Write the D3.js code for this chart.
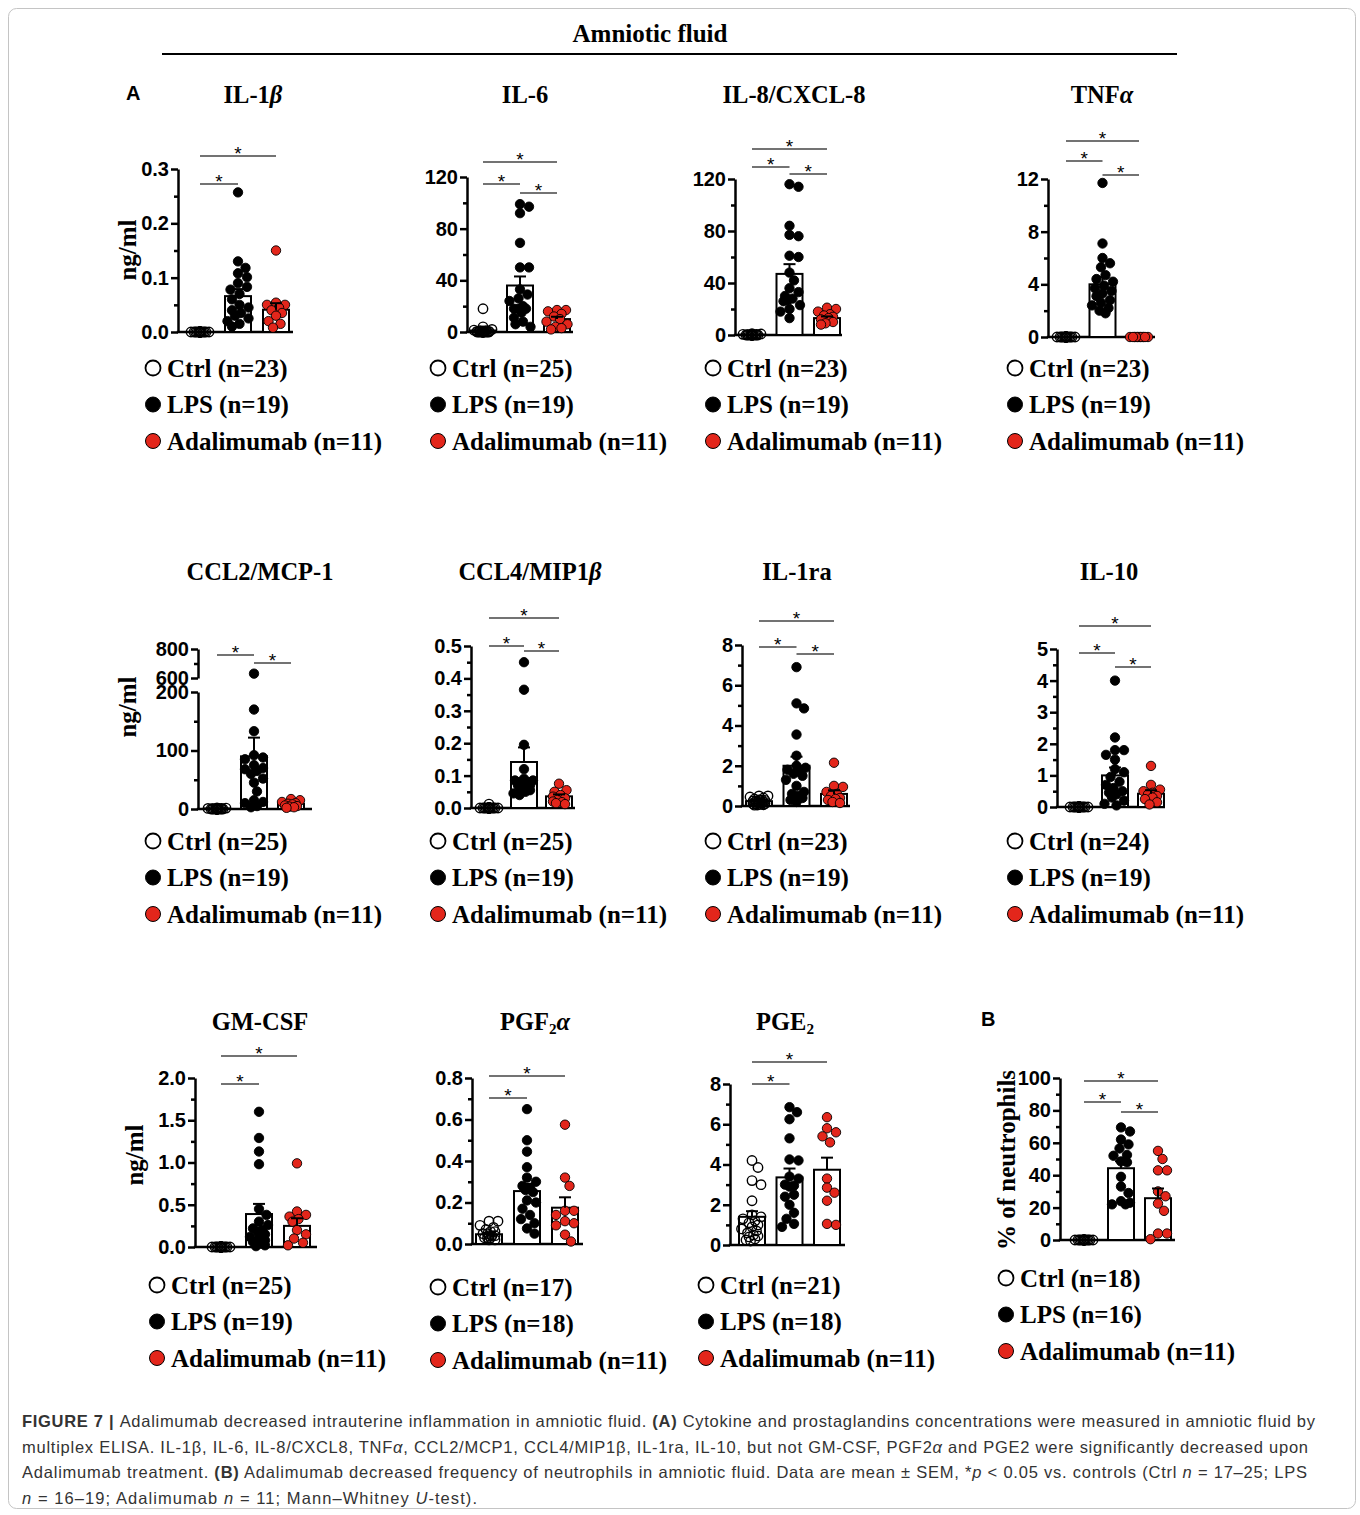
<!DOCTYPE html>
<html>
<head>
<meta charset="utf-8">
<script src="https://cdn.jsdelivr.net/npm/d3@7"></script>
<style>
  body { margin: 0; background: #fff; }
</style>
</head>
<body>
<script>
var width = 1360, height = 1515
var serif = "'Liberation Serif','Times New Roman',serif"
var sans = "'Liberation Sans',Arial,sans-serif"

var groups = ['Ctrl', 'LPS', 'Adalimumab']

// ---- data: [Ctrl, LPS, Adalimumab] ----
var il1bValues = [
  [0, 0, 0, 0, 0, 0, 0, 0, 0, 0, 0, 0, 0, 0, 0, 0, 0, 0, 0, 0, 0, 0, 0],
  [0.257, 0.13, 0.118, 0.108, 0.101, 0.09, 0.083, 0.078, 0.07, 0.06, 0.05, 0.045, 0.04, 0.035, 0.03, 0.025, 0.02, 0.015, 0.01],
  [0.15, 0.054, 0.05, 0.05, 0.045, 0.04, 0.035, 0.03, 0.02, 0.015, 0.008]
]
var il1bMean = [0, 0.066, 0.041]
var il1bSem = [0, 0.013, 0.012]
var il1bTicks = [0, 0.1, 0.2, 0.3]

var il6Values = [
  [18, 4, 2, 1.5, 1, 1, 0.8, 0.5, 0.5, 0.3, 0.2, 0, 0, 0, 0, 0, 0, 0, 0, 0, 0, 0, 0, 0, 0],
  [99, 97, 92, 69, 50, 50, 33, 29, 26, 24, 20, 18, 18, 18, 15, 11, 8, 6, 4],
  [17, 17, 16, 14, 12, 10, 8, 6, 4, 3, 2]
]
var il6Mean = [1.2, 36, 10]
var il6Sem = [0.8, 7, 1.8]
var il6Ticks = [0, 40, 80, 120]

var il8Values = [
  [1, 0.8, 0.5, 0.5, 0.3, 0, 0, 0, 0, 0, 0, 0, 0, 0, 0, 0, 0, 0, 0, 0, 0, 0, 0],
  [116, 114, 84, 77, 76, 61, 60, 48, 42, 36, 33, 30, 28, 27, 26, 23, 20, 18, 13],
  [21, 20, 18, 16, 15, 14, 13, 12, 10, 9, 8]
]
var il8Mean = [0.3, 47, 13]
var il8Sem = [0.1, 7.5, 1.3]
var il8Ticks = [0, 40, 80, 120]

var tnfValues = [
  [0, 0, 0, 0, 0, 0, 0, 0, 0, 0, 0, 0, 0, 0, 0, 0, 0, 0, 0, 0, 0, 0, 0],
  [11.7, 7.1, 6.0, 5.6, 5.3, 4.7, 4.4, 4.2, 3.9, 3.7, 3.5, 3.3, 3.1, 2.8, 2.6, 2.4, 2.2, 2.0, 1.8],
  [0, 0, 0, 0, 0, 0, 0, 0, 0, 0, 0]
]
var tnfMean = [0, 4.0, 0]
var tnfSem = [0, 0.55, 0]
var tnfTicks = [0, 4, 8, 12]

var ccl2Values = [
  [2, 1.5, 1, 1, 0.5, 0.5, 0, 0, 0, 0, 0, 0, 0, 0, 0, 0, 0, 0, 0, 0, 0, 0, 0, 0, 0],
  [630, 170, 133, 92, 88, 85, 75, 70, 68, 65, 60, 52, 45, 30, 15, 12, 10, 5, 3],
  [17, 15, 12, 10, 9, 8, 6, 5, 4, 3, 2]
]
var ccl2Mean = [1, 90, 9]
var ccl2Sem = [0.3, 32, 1.5]
var ccl2TicksLow = [0, 100, 200]
var ccl2TicksHigh = [600, 800]

var ccl4Values = [
  [0.012, 0, 0, 0, 0, 0, 0, 0, 0, 0, 0, 0, 0, 0, 0, 0, 0, 0, 0, 0, 0, 0, 0, 0, 0],
  [0.45, 0.365, 0.195, 0.12, 0.09, 0.085, 0.085, 0.08, 0.08, 0.075, 0.075, 0.07, 0.07, 0.065, 0.06, 0.055, 0.05, 0.045, 0.04],
  [0.075, 0.055, 0.05, 0.04, 0.035, 0.03, 0.025, 0.02, 0.018, 0.015, 0.012]
]
var ccl4Mean = [0.001, 0.142, 0.036]
var ccl4Sem = [0.0005, 0.045, 0.006]
var ccl4Ticks = [0, 0.1, 0.2, 0.3, 0.4, 0.5]

var il1raValues = [
  [0.5, 0.5, 0.45, 0.4, 0.35, 0.3, 0.3, 0.28, 0.25, 0.25, 0.22, 0.2, 0.2, 0.18, 0.15, 0.15, 0.12, 0.1, 0.1, 0.08, 0.06, 0.05, 0.04],
  [6.9, 5.1, 4.85, 3.55, 2.5, 2.0, 1.9, 1.8, 1.7, 1.6, 1.5, 1.3, 1.0, 0.7, 0.6, 0.5, 0.4, 0.3, 0.2],
  [2.15, 1.0, 0.95, 0.7, 0.6, 0.5, 0.4, 0.35, 0.3, 0.2, 0.15]
]
var il1raMean = [0.24, 2.0, 0.6]
var il1raSem = [0.03, 0.45, 0.18]
var il1raTicks = [0, 2, 4, 6, 8]

var il10Values = [
  [0, 0, 0, 0, 0, 0, 0, 0, 0, 0, 0, 0, 0, 0, 0, 0, 0, 0, 0, 0, 0, 0, 0, 0],
  [4.0, 2.2, 1.8, 1.8, 1.65, 1.5, 1.2, 1.1, 0.95, 0.8, 0.7, 0.6, 0.5, 0.45, 0.4, 0.3, 0.2, 0.1, 0.05],
  [1.3, 0.7, 0.55, 0.5, 0.45, 0.4, 0.35, 0.3, 0.25, 0.15, 0.08]
]
var il10Mean = [0, 1.0, 0.42]
var il10Sem = [0, 0.25, 0.11]
var il10Ticks = [0, 1, 2, 3, 4, 5]

var gmcsfValues = [
  [0, 0, 0, 0, 0, 0, 0, 0, 0, 0, 0, 0, 0, 0, 0, 0, 0, 0, 0, 0, 0, 0, 0, 0, 0],
  [1.6, 1.29, 1.13, 0.98, 0.45, 0.38, 0.3, 0.26, 0.22, 0.2, 0.18, 0.15, 0.12, 0.1, 0.08, 0.06, 0.04, 0.02, 0.01],
  [0.99, 0.42, 0.38, 0.36, 0.33, 0.3, 0.2, 0.15, 0.1, 0.05, 0.02]
]
var gmcsfMean = [0, 0.39, 0.25]
var gmcsfSem = [0, 0.12, 0.09]
var gmcsfTicks = [0, 0.5, 1.0, 1.5, 2.0]

var pgf2aValues = [
  [0.11, 0.11, 0.09, 0.08, 0.07, 0.06, 0.06, 0.05, 0.05, 0.04, 0.04, 0.04, 0.03, 0.03, 0.03, 0.02, 0.02],
  [0.65, 0.5, 0.445, 0.37, 0.32, 0.3, 0.28, 0.27, 0.26, 0.25, 0.21, 0.2, 0.17, 0.14, 0.12, 0.1, 0.075, 0.05],
  [0.575, 0.32, 0.28, 0.16, 0.16, 0.14, 0.11, 0.1, 0.09, 0.045, 0.012]
]
var pgf2aMean = [0.047, 0.255, 0.175]
var pgf2aSem = [0.008, 0.035, 0.05]
var pgf2aTicks = [0, 0.2, 0.4, 0.6, 0.8]

var pge2Values = [
  [4.2, 3.85, 3.2, 3.0, 2.2, 1.5, 1.4, 1.3, 1.2, 1.1, 1.0, 0.9, 0.8, 0.7, 0.6, 0.5, 0.45, 0.4, 0.3, 0.25, 0.2],
  [6.85, 6.6, 6.25, 5.3, 4.25, 4.2, 3.4, 3.3, 3.0, 2.95, 2.9, 2.5, 2.4, 2.0, 1.6, 1.3, 1.05, 0.9],
  [6.35, 5.8, 5.6, 5.4, 5.1, 3.3, 2.85, 2.6, 2.2, 1.05, 1.0]
]
var pge2Mean = [1.4, 3.36, 3.74]
var pge2Sem = [0.28, 0.44, 0.6]
var pge2Ticks = [0, 2, 4, 6, 8]

var neutroValues = [
  [0, 0, 0, 0, 0, 0, 0, 0, 0, 0, 0, 0, 0, 0, 0, 0, 0, 0],
  [69.5, 67, 62, 59, 56.5, 52.5, 52, 48.5, 48, 39, 33, 29, 24, 23, 22, 22],
  [55, 50, 43, 43, 30, 27, 22.5, 18, 4, 4, 0.5]
]
var neutroMean = [0, 44.3, 25.8]
var neutroSem = [0, 4.3, 6]
var neutroTicks = [0, 20, 40, 60, 80, 100]

// titles: [text, style]
var titles = {
  il1b: [['IL-1', ''], ['β', 'i']],
  il6: [['IL-6', '']],
  il8: [['IL-8/CXCL-8', '']],
  tnf: [['TNF', ''], ['α', 'i']],
  ccl2: [['CCL2/MCP-1', '']],
  ccl4: [['CCL4/MIP1', ''], ['β', 'i']],
  il1ra: [['IL-1ra', '']],
  il10: [['IL-10', '']],
  gmcsf: [['GM-CSF', '']],
  pgf2a: [['PGF', ''], ['2', 'sub'], ['α', 'i']],
  pge2: [['PGE', ''], ['2', 'sub']],
  neutro: []
}

var f1 = d3.format('.1f'), f0 = d3.format('d')
var barW = 26

var panels = [
  {id: 'il1b', vals: il1bValues, mean: il1bMean, sem: il1bSem, ticks: il1bTicks, fmt: f1,
    axisX: 178, c0: 200, step: 38, axisEnd: 293, y0: 332, yTop: 169, titleX: 253, titleY: 103,
    legX: 153, legY: 368, sig: [[0, 1, 184], [0, 2, 156]], ylab: 'ng/ml', ylabX: 136, ylabY: 250},
  {id: 'il6', vals: il6Values, mean: il6Mean, sem: il6Sem, ticks: il6Ticks, fmt: f0,
    axisX: 467, c0: 483, step: 37, axisEnd: 573, y0: 332, yTop: 177, titleX: 525, titleY: 103,
    legX: 438, legY: 368, sig: [[0, 1, 184], [1, 2, 193], [0, 2, 162]]},
  {id: 'il8', vals: il8Values, mean: il8Mean, sem: il8Sem, ticks: il8Ticks, fmt: f0,
    axisX: 735, c0: 752, step: 37.5, axisEnd: 842, y0: 335, yTop: 179, titleX: 794, titleY: 103,
    legX: 713, legY: 368, sig: [[0, 1, 167], [1, 2, 174], [0, 2, 149]]},
  {id: 'tnf', vals: tnfValues, mean: tnfMean, sem: tnfSem, ticks: tnfTicks, fmt: f0,
    axisX: 1048, c0: 1066, step: 36.5, axisEnd: 1155, y0: 337, yTop: 179, titleX: 1102, titleY: 103,
    legX: 1015, legY: 368, sig: [[0, 1, 161], [1, 2, 175], [0, 2, 141]]},
  {id: 'ccl2', vals: ccl2Values, mean: ccl2Mean, sem: ccl2Sem, fmt: f0, broken: true,
    axisX: 198, c0: 217, step: 37, axisEnd: 312, y0: 809, yTop: 649, titleX: 260, titleY: 580,
    legX: 153, legY: 841, sig: [[0, 1, 655], [1, 2, 663]], ylab: 'ng/ml', ylabX: 136, ylabY: 707},
  {id: 'ccl4', vals: ccl4Values, mean: ccl4Mean, sem: ccl4Sem, ticks: ccl4Ticks, fmt: f1,
    axisX: 471, c0: 489, step: 35, axisEnd: 575, y0: 808, yTop: 646, titleX: 530, titleY: 580,
    legX: 438, legY: 841, sig: [[0, 1, 646], [1, 2, 651], [0, 2, 618]]},
  {id: 'il1ra', vals: il1raValues, mean: il1raMean, sem: il1raSem, ticks: il1raTicks, fmt: f0,
    axisX: 742, c0: 759, step: 37.5, axisEnd: 850, y0: 806, yTop: 645, titleX: 797, titleY: 580,
    legX: 713, legY: 841, sig: [[0, 1, 647], [1, 2, 654], [0, 2, 621]]},
  {id: 'il10', vals: il10Values, mean: il10Mean, sem: il10Sem, ticks: il10Ticks, fmt: f0,
    axisX: 1057, c0: 1079, step: 36, axisEnd: 1165, y0: 807, yTop: 649, titleX: 1109, titleY: 580,
    legX: 1015, legY: 841, sig: [[0, 1, 653], [1, 2, 667], [0, 2, 626]]},
  {id: 'gmcsf', vals: gmcsfValues, mean: gmcsfMean, sem: gmcsfSem, ticks: gmcsfTicks, fmt: f1,
    axisX: 195, c0: 221, step: 38, axisEnd: 317, y0: 1247, yTop: 1078, titleX: 260, titleY: 1030,
    legX: 157, legY: 1285, sig: [[0, 1, 1084], [0, 2, 1056]], ylab: 'ng/ml', ylabX: 143, ylabY: 1155},
  {id: 'pgf2a', vals: pgf2aValues, mean: pgf2aMean, sem: pgf2aSem, ticks: pgf2aTicks, fmt: f1,
    axisX: 472, c0: 489, step: 38, axisEnd: 583, y0: 1244, yTop: 1078, titleX: 535, titleY: 1030,
    legX: 438, legY: 1287, sig: [[0, 1, 1098], [0, 2, 1076]]},
  {id: 'pge2', vals: pge2Values, mean: pge2Mean, sem: pge2Sem, ticks: pge2Ticks, fmt: f0,
    axisX: 730, c0: 752, step: 37.5, axisEnd: 845, y0: 1245, yTop: 1084, titleX: 785, titleY: 1030,
    legX: 706, legY: 1285, sig: [[0, 1, 1084], [0, 2, 1062]]},
  {id: 'neutro', vals: neutroValues, mean: neutroMean, sem: neutroSem, ticks: neutroTicks, fmt: f0,
    axisX: 1060, c0: 1084, step: 37, axisEnd: 1175, y0: 1240, yTop: 1078, titleX: 0, titleY: 0,
    legX: 1006, legY: 1278, sig: [[0, 1, 1102], [1, 2, 1112], [0, 2, 1081]],
    ylab: '% of neutrophils', ylabX: 1015, ylabY: 1160}
]

var captionLines = [
  [['FIGURE 7 | ', 'b'], ['Adalimumab decreased intrauterine inflammation in amniotic fluid. ', ''], ['(A)', 'b'],
    [' Cytokine and prostaglandins concentrations were measured in amniotic fluid by', '']],
  [['multiplex ELISA. IL-1β, IL-6, IL-8/CXCL8, TNF', ''], ['α', 'i'], [', CCL2/MCP1, CCL4/MIP1β, IL-1ra, IL-10, but not GM-CSF, PGF2', ''], ['α', 'i'],
    [' and PGE2 were significantly decreased upon', '']],
  [['Adalimumab treatment. ', ''], ['(B)', 'b'], [' Adalimumab decreased frequency of neutrophils in amniotic fluid. Data are mean ± SEM, *', ''],
    ['p', 'i'], [' < 0.05 vs. controls (Ctrl ', ''], ['n', 'i'], [' = 17–25; LPS', '']],
  [['n', 'i'], [' = 16–19; Adalimumab ', ''], ['n', 'i'], [' = 11; Mann–Whitney ', ''], ['U', 'i'], ['-test).', '']]
]
var captionWidths = [1293, 1286, 1285, 455]

// ---- drawing ----
var svg = d3.select('body').append('svg')
  .attr('width', width)
  .attr('height', height)

svg.append('rect')
  .attr('x', 8.5).attr('y', 8.5)
  .attr('width', 1347).attr('height', 1500)
  .attr('rx', 8)
  .attr('fill', 'none')
  .attr('stroke', '#c4c4c4')

svg.append('text')
  .attr('x', 650).attr('y', 42)
  .attr('text-anchor', 'middle')
  .style('font-family', serif).style('font-weight', 'bold').style('font-size', '25px')
  .text('Amniotic fluid')

svg.append('line')
  .attr('x1', 162).attr('x2', 1177).attr('y1', 54).attr('y2', 54)
  .attr('stroke', '#000').attr('stroke-width', 2)

svg.append('text').attr('x', 126).attr('y', 100)
  .style('font-family', sans).style('font-weight', 'bold').style('font-size', '20px').text('A')
svg.append('text').attr('x', 981).attr('y', 1026)
  .style('font-family', sans).style('font-weight', 'bold').style('font-size', '20px').text('B')

function rich(sel, segs, size) {
  var shifted = false
  segs.forEach(function(s) {
    var t = sel.append('tspan').text(s[0])
    if (s[1] === 'i') t.style('font-style', 'italic')
    if (s[1] === 'b') t.style('font-weight', 'bold')
    if (s[1] === 'sub') {
      t.style('font-size', (size * 0.62) + 'px').attr('dy', size * 0.18)
      shifted = true
    } else if (shifted) {
      t.attr('dy', -size * 0.18)
      shifted = false
    }
  })
}

// beeswarm placement: nearest free horizontal offset around the group centre,
// piling up tightly (overlapping) when there is no free room
function swarm(vals, y, cx, r, maxHalf, packHalf) {
  var step = 1.5
  var offs = [0]
  for (var k = 1; k * step <= maxHalf; k++) offs.push(k * step, -k * step)
  var pts = vals.map(function(v) { return {v: v, y: y(v)} })
    .sort(function(a, b) { return a.y - b.y })
  var placed = []
  pts.forEach(function(p) {
    var best = null, bestD = -1
    for (var i = 0; i < offs.length; i++) {
      var minD = Infinity
      placed.forEach(function(q) {
        var d = Math.hypot(cx + offs[i] - q.x, p.y - q.y)
        if (d < minD) minD = d
      })
      if (minD >= 2 * r * 0.95) { best = offs[i]; break }
      if (Math.abs(offs[i]) <= packHalf && minD > bestD + 0.01) { bestD = minD; best = offs[i] }
    }
    placed.push({x: cx + best, y: p.y, v: p.v})
  })
  return placed
}

var fills = ['#fff', '#000', '#e3261b']
var dotFills = ['none', '#000', '#e3261b']
var dotR = 4.7

function styleAxis(a, size) {
  a.selectAll('path, line').attr('stroke', '#000').attr('stroke-width', 2.5)
  a.selectAll('text')
    .style('font-family', sans).style('font-weight', 'bold').style('font-size', size)
    .attr('fill', '#000')
}

function drawPanel(p) {
  var g = svg.append('g').attr('class', 'panel ' + p.id)

  var y, segs
  if (p.broken) {
    y = d3.scaleLinear().domain([0, 200, 600, 800]).range([p.y0, 692, 678, p.yTop])
    segs = [{ticks: ccl2TicksLow}, {ticks: ccl2TicksHigh}]
  } else {
    y = d3.scaleLinear().domain([0, p.ticks[p.ticks.length - 1]]).range([p.y0, p.yTop])
    segs = [{ticks: p.ticks}]
  }

  var pad = 1 - barW / p.step
  var x = d3.scaleBand()
    .domain(groups)
    .range([p.c0 - p.step / 2, p.c0 + 2.5 * p.step])
    .paddingInner(pad)
    .paddingOuter(pad / 2)
  var cx = function(gr) { return x(gr) + x.bandwidth() / 2 }

  // y axis (one segment, or two for the broken axis)
  segs.forEach(function(s) {
    var t = s.ticks
    var ys = d3.scaleLinear().domain([t[0], t[t.length - 1]]).range([y(t[0]), y(t[t.length - 1])])
    var minor = d3.pairs(t).map(function(d) { return (d[0] + d[1]) / 2 })
    g.append('g')
      .attr('transform', `translate(${p.axisX},0)`)
      .call(d3.axisLeft(ys).tickValues(minor).tickSize(4).tickSizeOuter(0).tickFormat(''))
      .call(function(a) { a.select('.domain').remove(); styleAxis(a, '20px') })
    g.append('g')
      .attr('transform', `translate(${p.axisX},0)`)
      .call(d3.axisLeft(ys).tickValues(t).tickSize(7).tickSizeOuter(0).tickPadding(2).tickFormat(p.fmt))
      .call(function(a) { styleAxis(a, '20px') })
  })

  // x baseline
  g.append('line')
    .attr('x1', p.axisX - 1.2).attr('x2', p.axisEnd)
    .attr('y1', y(0)).attr('y2', y(0))
    .attr('stroke', '#000').attr('stroke-width', 2.5)

  // bars
  g.selectAll('rect.bar')
    .data(groups)
    .enter()
    .append('rect')
    .attr('class', 'bar')
    .attr('x', function(d) { return x(d) })
    .attr('width', x.bandwidth())
    .attr('y', function(d, i) { return y(p.mean[i]) })
    .attr('height', function(d, i) { return y(0) - y(p.mean[i]) })
    .attr('fill', '#fff')
    .attr('stroke', '#000')
    .attr('stroke-width', 2)

  // dots
  groups.forEach(function(gr, i) {
    var pts = swarm(p.vals[i], y, cx(gr), dotR, 11, 7)
    g.selectAll('circle.dot-' + i)
      .data(pts)
      .enter()
      .append('circle')
      .attr('class', 'dot-' + i)
      .attr('cx', function(d) { return d.x })
      .attr('cy', function(d) { return d.y })
      .attr('r', dotR)
      .attr('fill', dotFills[i])
      .attr('stroke', '#000')
      .attr('stroke-width', i === 0 ? 1.4 : 0.9)
  })

  // SEM error bars (upper half)
  groups.forEach(function(gr, i) {
    if (p.sem[i] <= 0 || y(p.mean[i]) - y(p.mean[i] + p.sem[i]) < 1.5) return
    var c = cx(gr), top = y(p.mean[i] + p.sem[i])
    g.append('line').attr('x1', c).attr('x2', c)
      .attr('y1', y(p.mean[i])).attr('y2', top)
      .attr('stroke', '#000').attr('stroke-width', 2)
    g.append('line').attr('x1', c - 6).attr('x2', c + 6)
      .attr('y1', top).attr('y2', top)
      .attr('stroke', '#000').attr('stroke-width', 2)
  })

  // significance bars
  p.sig.forEach(function(s) {
    var a = cx(groups[s[0]]), b = cx(groups[s[1]])
    g.append('line')
      .attr('x1', a).attr('x2', b).attr('y1', s[2]).attr('y2', s[2])
      .attr('stroke', '#444').attr('stroke-width', 1.6)
    g.append('text')
      .attr('x', (a + b) / 2).attr('y', s[2] + 4)
      .attr('text-anchor', 'middle')
      .style('font-family', sans).style('font-size', '19px')
      .text('*')
  })

  // title
  if (titles[p.id].length) {
    var t = g.append('text')
      .attr('x', p.titleX).attr('y', p.titleY)
      .attr('text-anchor', 'middle')
      .style('font-family', serif).style('font-weight', 'bold').style('font-size', '24.5px')
    rich(t, titles[p.id], 24.5)
  }

  // y label
  if (p.ylab) {
    g.append('text')
      .attr('transform', `translate(${p.ylabX},${p.ylabY}) rotate(-90)`)
      .attr('text-anchor', 'middle')
      .style('font-family', serif).style('font-weight', 'bold').style('font-size', '25px')
      .text(p.ylab)
  }

  // legend
  groups.forEach(function(gr, i) {
    var ly = p.legY + i * 36.5
    g.append('circle')
      .attr('cx', p.legX).attr('cy', ly).attr('r', 7.5)
      .attr('fill', fills[i]).attr('stroke', '#000').attr('stroke-width', i === 0 ? 1.8 : 1)
    g.append('text')
      .attr('x', p.legX + 14).attr('y', ly + 8.5)
      .style('font-family', serif).style('font-weight', 'bold').style('font-size', '25px')
      .text(`${gr} (n=${p.vals[i].length})`)
  })
}

panels.forEach(drawPanel)

// caption
captionLines.forEach(function(line, i) {
  var t = svg.append('text')
    .attr('x', 22).attr('y', 1427 + i * 25.7)
    .attr('textLength', captionWidths[i])
    .attr('lengthAdjust', 'spacing')
    .style('font-family', sans).style('font-size', '16.5px')
    .attr('fill', '#333')
  rich(t, line, 16.5)
})
</script>
</body>
</html>
